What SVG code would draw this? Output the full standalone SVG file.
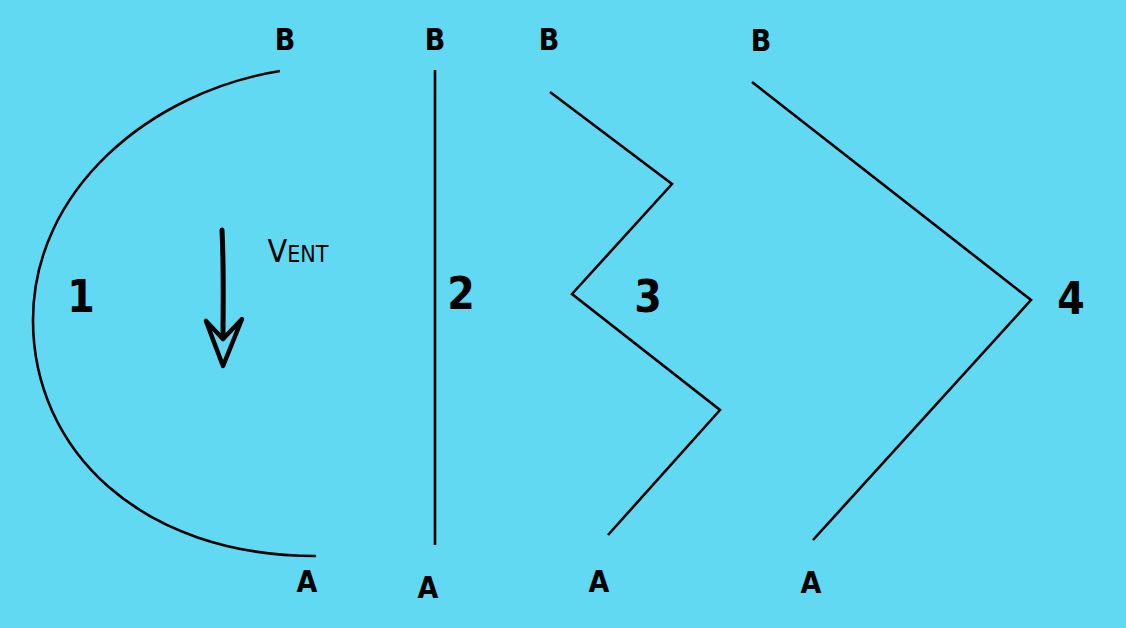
<svg xmlns="http://www.w3.org/2000/svg" width="1126" height="628" viewBox="0 0 1126 628">
<style>
.ln{fill:none;stroke:#000;stroke-width:2.6;stroke-linecap:butt;stroke-linejoin:miter}
.lbl{font-family:"DejaVu Sans Condensed","DejaVu Sans",sans-serif;font-weight:bold;fill:#000;text-anchor:middle}
.pt{font-size:30px}
.num{font-size:44px}
</style>
<rect width="1126" height="628" fill="#61d9f3"/>
<g id="connectors">
  <path id="path1" class="ln" d="M280,71 C150,92 33,190 33,320 C33,450 140,556 316,556"/>
  <path id="path2" class="ln" d="M435,70 L435,545"/>
  <path id="path3" class="ln" d="M550,92 L672,184 L572,294 L720,410 L608,535"/>
  <path id="path4" class="ln" d="M752,82 L1031,300 L813,540"/>
</g>
<g id="wind">
  <path d="M222,230 C224,270 223,310 223,338" fill="none" stroke="#000" stroke-width="5" stroke-linecap="round"/>
  <path d="M206,321 L223,366 L242,319 L223,339 Z" fill="none" stroke="#000" stroke-width="4.5" stroke-linejoin="round"/>
  <text class="lbl" x="298" y="262"><tspan font-size="32" font-weight="normal">V</tspan><tspan font-size="23" font-weight="normal">ENT</tspan></text>
</g>
<g id="labels-B">
  <text class="lbl pt" x="285" y="50">B</text>
  <text class="lbl pt" x="435" y="50">B</text>
  <text class="lbl pt" x="549" y="50">B</text>
  <text class="lbl pt" x="761" y="51">B</text>
</g>
<g id="labels-A">
  <text class="lbl pt" x="307" y="592">A</text>
  <text class="lbl pt" x="428" y="598">A</text>
  <text class="lbl pt" x="599" y="592">A</text>
  <text class="lbl pt" x="811" y="593">A</text>
</g>
<g id="numbers">
  <text class="lbl num" x="81" y="312">1</text>
  <text class="lbl num" x="461" y="309">2</text>
  <text class="lbl num" x="648" y="312">3</text>
  <text class="lbl num" x="1071" y="314">4</text>
</g>
</svg>
